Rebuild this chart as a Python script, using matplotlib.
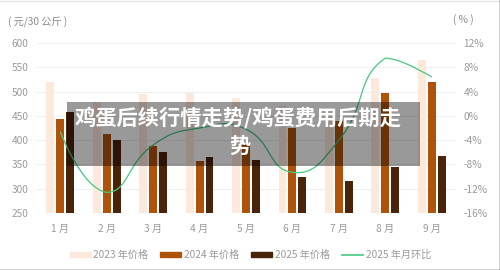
import numpy as np
import matplotlib
matplotlib.use("Agg")
import matplotlib.pyplot as plt
from matplotlib.path import Path
from matplotlib.patches import PathPatch, Rectangle
from matplotlib.lines import Line2D

plt.rcParams['font.family'] = ['Noto Sans CJK SC', 'DejaVu Sans']

# ---- data ----
months = ['1 月', '2 月', '3 月', '4 月', '5 月', '6 月', '7 月', '8 月', '9 月']
price_2023 = [520, 479, 495, 497, 487, 470, 455, 528, 565]
price_2024 = [444, 413, 387, 357, 390, 425, 440, 497, 520]
price_2025 = [458, 400, 376, 366, 359, 324, 316, 345, 368]
mom_2025 = [-2.6, -12.6, -4.8, -2.0, -2.2, -9.3, -4.0, 9.5, 6.4]
left_ticks = [250, 300, 350, 400, 450, 500, 550, 600]
right_ticks = [-16, -12, -8, -4, 0, 4, 8, 12]
series_names = ['2023 年价格', '2024 年价格', '2025 年价格', '2025 年月环比']
title_line1 = '鸡蛋后续行情走势/鸡蛋费用后期走'
title_line2 = '势'

c2023 = '#fde9dc'
c2024 = '#b0530a'
c2025 = '#4a230b'
cline = '#45c880'
tick_color = '#9a9a9a'
grid_color = '#efefef'

W, H = 500, 270
fig = plt.figure(figsize=(W / 100, H / 100), dpi=100)

def fx(px):
    return px / W

def fy(py):
    return 1 - py / H

ax = fig.add_axes([fx(37), fy(213), fx(455) - fx(37), fy(43) - fy(213)])
ax2 = ax.twinx()

x = np.arange(len(months))
bw = 0.17
off = 0.215
ax.bar(x - off, price_2023, width=bw, color=c2023, zorder=2)
ax.bar(x, price_2024, width=bw, color=c2024, zorder=2)
ax.bar(x + off, price_2025, width=bw, color=c2025, zorder=2)

ax.set_xlim(-0.5, len(months) - 0.5)
ax.set_ylim(250, 600)
ax.set_yticks(left_ticks)
ax.set_xticks(x)
ax.set_xticklabels(months)
ax.grid(axis='y', color=grid_color, linewidth=0.8, zorder=0)
ax.set_axisbelow(True)
for s in ax.spines.values():
    s.set_visible(False)
for s in ax2.spines.values():
    s.set_visible(False)
ax.tick_params(axis='both', length=0, colors=tick_color, labelsize=7.3)
ax.tick_params(axis='x', pad=8)
ax.tick_params(axis='y', pad=6)

ax2.set_xlim(-0.5, len(months) - 0.5)
ax2.set_ylim(-16, 12)
ax2.set_yticks(right_ticks)
ax2.set_yticklabels([f'{v}%' for v in right_ticks])
ax2.tick_params(axis='y', length=0, colors=tick_color, labelsize=7.3, pad=6)

# smooth line: bezier smoothing in pixel space, control points kept inside
# the bounding box of all points
tr = ax2.transData
P = tr.transform(np.column_stack([x.astype(float), np.array(mom_2025, dtype=float)]))
n = len(P)
sm = 0.5
bmin = P.min(axis=0)
bmax = P.max(axis=0)
verts = [P[0]]
codes = [Path.MOVETO]
cp0 = P[0].copy()
for i in range(1, n):
    cur = P[i]
    if i == n - 1:
        verts += [np.clip(cp0, bmin, bmax), cur, cur]
        codes += [Path.CURVE4] * 3
        break
    prev = P[i - 1]
    nxt = P[i + 1]
    v = nxt - prev
    lp = np.hypot(*(cur - prev))
    ln = np.hypot(*(nxt - cur))
    r = ln / (ln + lp)
    cp1 = np.clip(cur - v * sm * (1 - r), bmin, bmax)
    verts += [np.clip(cp0, bmin, bmax), cp1, cur]
    codes += [Path.CURVE4] * 3
    cp0 = cur + v * sm * r
verts_data = tr.inverted().transform(np.array(verts))
ax2.add_patch(PathPatch(Path(verts_data, codes), facecolor='none', edgecolor=cline,
                        linewidth=0.9, zorder=3))

# axis unit labels
fig.text(fx(8), fy(22), '( 元/30 公斤 )', fontsize=7.3, color='#8a8a8a', va='center', ha='left')
fig.text(fx(453), fy(20), '( % )', fontsize=7.3, color='#8a8a8a', va='center', ha='left')

# legend (manual)
leg_y = 254.5
items = [(70, 93, c2023, 'bar'), (160, 184, c2024, 'bar'),
         (251, 275, c2025, 'bar'), (342, 366, cline, 'line')]
for (sx, tx, col, kind), name in zip(items, series_names):
    if kind == 'bar':
        fig.patches.append(Rectangle((fx(sx), fy(leg_y + 2.5)), fx(21), 5 / H,
                                     transform=fig.transFigure, color=col))
    else:
        fig.lines.append(Line2D([fx(sx), fx(sx + 21)], [fy(leg_y), fy(leg_y)],
                                transform=fig.transFigure, color=col, linewidth=1.2))
    fig.text(fx(tx), fy(leg_y), name, fontsize=7.3, color='#9a9a9a', va='center', ha='left')

# overlay title box
fig.patches.append(Rectangle((fx(67), fy(166)), fx(420) - fx(67), 64 / H,
                             transform=fig.transFigure, color='black', alpha=0.4,
                             zorder=10, linewidth=0))
fig.text(fx(238), fy(118), title_line1, fontsize=15.3, color='white', weight='bold',
         ha='center', va='center', zorder=11)
fig.text(fx(240), fy(146), title_line2, fontsize=15.3, color='white', weight='bold',
         ha='center', va='center', zorder=11)

# frame edges
fig.lines.append(Line2D([fx(0), fx(500)], [fy(0.5), fy(0.5)], transform=fig.transFigure,
                        color='#e6e6e6', linewidth=1))
fig.lines.append(Line2D([fx(499.5), fx(499.5)], [0, 1], transform=fig.transFigure,
                        color='#222222', linewidth=1))
fig.lines.append(Line2D([0, 1], [fy(269.5), fy(269.5)], transform=fig.transFigure,
                        color='#222222', linewidth=1))

fig.savefig('out.png', dpi=100)
